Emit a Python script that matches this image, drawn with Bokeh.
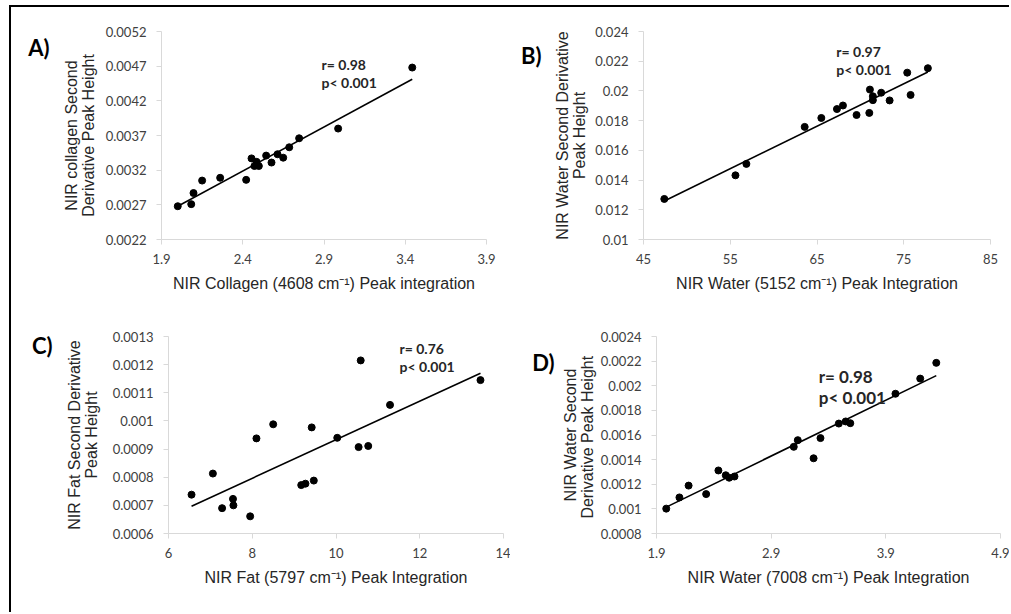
import numpy as np
from bokeh.plotting import figure
from bokeh.layouts import column, row
from bokeh.models import (FixedTicker, CustomJSTickFormatter, Label, Range1d,
                          LinearAxis, Spacer)
from bokeh.embed import file_html
from bokeh.resources import INLINE

# ---------------- data ----------------
# Panel A: collagen
a_x = [2.00, 2.083, 2.097, 2.15, 2.261, 2.421, 2.454, 2.472, 2.485, 2.499,
       2.544, 2.577, 2.614, 2.649, 2.686, 2.747, 2.987, 3.443]
a_y = [0.00268, 0.00271, 0.00287, 0.00305, 0.00309, 0.00306, 0.00337, 0.00326,
       0.00332, 0.00326, 0.00341, 0.00331, 0.00343, 0.00338, 0.00353, 0.00366,
       0.00380, 0.00468]
a_xticks = [1.9, 2.4, 2.9, 3.4, 3.9]
a_yticks = [0.0022, 0.0027, 0.0032, 0.0037, 0.0042, 0.0047, 0.0052]

# Panel B: water 5152
b_x = [47.4, 55.6, 56.86, 63.58, 65.5, 67.3, 67.99, 69.56, 71.03, 71.1, 71.44,
       71.44, 72.4, 73.37, 75.4, 75.79, 77.78]
b_y = [0.01273, 0.01432, 0.01509, 0.01758, 0.01818, 0.01878, 0.01902, 0.01838,
       0.01852, 0.02009, 0.01964, 0.01938, 0.01988, 0.01936, 0.02123, 0.01973,
       0.02153]
b_xticks = [45, 55, 65, 75, 85]
b_yticks = [0.01, 0.012, 0.014, 0.016, 0.018, 0.02, 0.022, 0.024]

# Panel C: fat
c_x = [6.55, 7.06, 7.28, 7.54, 7.55, 7.95, 8.10, 8.50, 9.17, 9.27, 9.47, 9.42,
       10.03, 10.54, 10.77, 10.59, 11.29, 13.45]
c_y = [0.000738, 0.000813, 0.000690, 0.000723, 0.000700, 0.000661, 0.000938,
       0.000988, 0.000772, 0.000777, 0.000788, 0.000977, 0.000940, 0.000907,
       0.000911, 0.001215, 0.001057, 0.001145]
c_xticks = [6, 8, 10, 12, 14]
c_yticks = [0.0006, 0.0007, 0.0008, 0.0009, 0.001, 0.0011, 0.0012, 0.0013]

# Panel D: water 7008
d_x = [1.985, 2.10, 2.18, 2.333, 2.44, 2.504, 2.534, 2.58, 3.097, 3.132, 3.27,
       3.33, 3.49, 3.55, 3.59, 3.984, 4.20, 4.34]
d_y = [0.001002, 0.001093, 0.001189, 0.001120, 0.001312, 0.001273, 0.001253,
       0.001263, 0.001504, 0.001558, 0.001411, 0.001575, 0.001693, 0.001710,
       0.001696, 0.001935, 0.002058, 0.002186]
d_xticks = [1.9, 2.9, 3.9, 4.9]
d_yticks = [0.0008, 0.001, 0.0012, 0.0014, 0.0016, 0.0018, 0.002, 0.0022, 0.0024]

letters = ["A)", "B)", "C)", "D)"]
r_texts = ["r= 0.98", "r= 0.97", "r= 0.76", "r= 0.98"]
p_text = "p< 0.001"
x_titles = ["NIR Collagen (4608 cm\u207b\u00b9) Peak integration",
            "NIR Water (5152 cm\u207b\u00b9) Peak Integration",
            "NIR Fat (5797 cm\u207b\u00b9) Peak Integration",
            "NIR Water (7008 cm\u207b\u00b9) Peak Integration"]
y_titles = ["NIR collagen Second\nDerivative Peak Height",
            "NIR Water Second Derivative\nPeak Height",
            "NIR Fat Second Derivative\nPeak Height",
            "NIR Water Second\nDerivative  Peak Height"]

fmt = CustomJSTickFormatter(code="return String(parseFloat(tick.toFixed(6)));")

AX_COL = "#d9d9d9"
TXT_COL = "#404040"


def panel(xs, ys, xticks, yticks, xt, yt, letter, rt, w, h, mb, stat_xy,
          stat_size, stat_gap, letter_y, ylab_standoff, letter_standoff):
    p = figure(width=w, height=h,
               x_range=Range1d(xticks[0], xticks[-1]),
               y_range=Range1d(yticks[0], yticks[-1]),
               output_backend="svg", toolbar_location=None,
               min_border_left=mb[0], min_border_right=mb[1],
               min_border_top=mb[2], min_border_bottom=mb[3])
    p.title.visible = False
    p.xgrid.visible = False
    p.ygrid.visible = False
    p.outline_line_color = None
    p.background_fill_color = "white"
    p.border_fill_color = "white"
    for ax, ticks in ((p.xaxis[0], xticks), (p.yaxis[0], yticks)):
        ax.ticker = FixedTicker(ticks=ticks)
        ax.formatter = fmt
        ax.axis_line_color = AX_COL
        ax.axis_line_width = 1
        ax.major_tick_line_color = AX_COL
        ax.major_tick_out = 5
        ax.major_tick_in = 0
        ax.minor_tick_line_color = None
        ax.major_label_text_font = "Lato"
        ax.major_label_text_font_size = "13px"
        ax.major_label_text_color = TXT_COL
        ax.axis_label_text_font = "Liberation Sans"
        ax.axis_label_text_font_size = "16px"
        ax.axis_label_text_font_style = "normal"
        ax.axis_label_text_color = "#262626"
        ax.axis_label_text_line_height = 1.0
    p.xaxis[0].axis_label = xt
    p.yaxis[0].axis_label = yt
    p.xaxis[0].major_label_standoff = 9
    p.yaxis[0].major_label_standoff = 10
    p.xaxis[0].axis_label_standoff = 8
    p.yaxis[0].axis_label_standoff = ylab_standoff

    # panel letter, drawn as the single label of an extra, line-less left axis
    lab_ax = LinearAxis(ticker=FixedTicker(ticks=[letter_y]),
                        formatter=CustomJSTickFormatter(args=dict(t=letter),
                                                        code="return t;"),
                        axis_line_color=None, major_tick_line_color=None,
                        minor_tick_line_color=None, major_tick_out=0,
                        major_tick_in=0, major_label_standoff=letter_standoff,
                        major_label_text_font="Lato",
                        major_label_text_font_style="bold",
                        major_label_text_font_size="22px",
                        major_label_text_color="black")
    p.add_layout(lab_ax, "left")

    # regression line over the data extent
    k, b = np.polyfit(xs, ys, 1)
    lx = [min(xs), max(xs)]
    p.line(lx, [k * v + b for v in lx], line_color="black", line_width=1.6)
    p.scatter(xs, ys, size=7, color="black")

    p.add_layout(Label(x=stat_xy[0], y=stat_xy[1], text=rt, text_font="Lato",
                       text_font_style="bold", text_font_size=stat_size,
                       text_color="#262626", text_baseline="alphabetic"))
    p.add_layout(Label(x=stat_xy[0], y=stat_xy[1], y_offset=-stat_gap, text=p_text,
                       text_font="Lato", text_font_style="bold",
                       text_font_size=stat_size, text_color="#262626",
                       text_baseline="alphabetic"))
    return p


pA = panel(a_x, a_y, a_xticks, a_yticks, x_titles[0], y_titles[0], letters[0],
           r_texts[0], 497, 301, (150, 22, 24, 69), (2.885, 0.004724), "14px", 18,
           0.004969, 6, 10)
pB = panel(b_x, b_y, b_xticks, b_yticks, x_titles[1], y_titles[1], letters[1],
           r_texts[1], 501, 301, (135, 19, 18, 66), (67.23, 0.022647), "14px", 18,
           0.02239, 4, 10)
pC = panel(c_x, c_y, c_xticks, c_yticks, x_titles[2], y_titles[2], letters[2],
           r_texts[2], 499, 304, (157, 7, 28, 65), (11.515, 0.001256), "14px", 18,
           0.001267, 10, 10)
pD = panel(d_x, d_y, d_xticks, d_yticks, x_titles[3], y_titles[3], letters[3],
           r_texts[3], 499, 304, (146, 9, 8, 79), (3.315, 0.002075), "17px", 21,
           0.002186, 2, 4)

panels = column(row(pA, pB, spacing=0), row(pC, pD, spacing=0), spacing=0)

top_gap = Spacer(width=1009, height=5)
top_rule = row(Spacer(width=9, height=2),
               Spacer(width=1000, height=2, styles={"background-color": "black"}),
               spacing=0)
left_rule = Spacer(width=2, height=605, styles={"background-color": "black"})
body = row(Spacer(width=9, height=605), left_rule, panels, spacing=0)
layout = column(top_gap, top_rule, body, spacing=0)

open("out.html", "w").write(file_html(layout, INLINE))
